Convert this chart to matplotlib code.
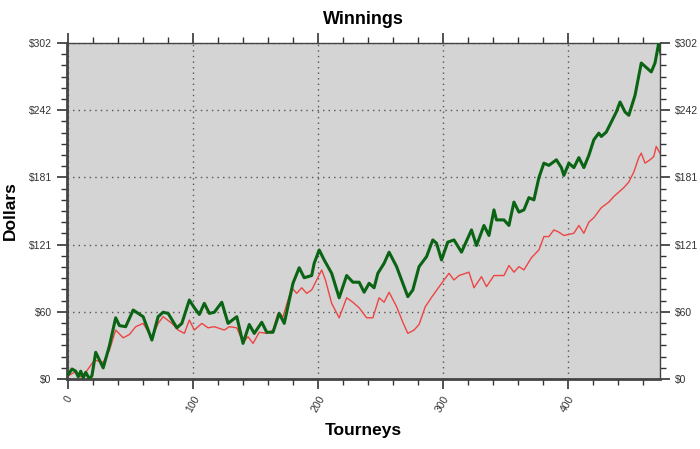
import matplotlib
matplotlib.use("Agg")
import matplotlib.pyplot as plt
from matplotlib.ticker import MultipleLocator, FixedLocator, FuncFormatter

plt.rcParams['font.family'] = ['Liberation Sans', 'DejaVu Sans']

# data (tourney, dollars)
green_t = [0, 3, 6, 8, 10, 12, 14, 17, 19, 22, 28, 33, 38, 41, 46, 52, 56, 60, 67, 72,
           76, 80, 87, 91, 97, 101, 105, 109, 113, 117, 123, 128, 135, 140, 145, 149, 155, 159, 164, 169,
           173, 180, 185, 189, 195, 197, 201, 205, 211, 217, 223, 228, 233, 237, 241, 245, 248, 253, 257, 263,
           268, 272, 276, 281, 287, 292, 295, 299, 304, 309, 315, 323, 327, 333, 337, 341, 343, 349, 353, 357,
           361, 365, 369, 373, 377, 381, 385, 391, 395, 397, 401, 405, 409, 413, 417, 421, 425, 427, 431, 435,
           439, 442, 446, 449, 454, 459, 463, 467, 470, 473, 475]
green_v = [4, 9, 7, 2, 7, 1, 6, 0, 3, 24, 10, 30, 55, 48, 47, 62, 59, 56, 35, 56,
           60, 59, 46, 50, 71, 64, 58, 68, 59, 60, 69, 50, 56, 32, 49, 41, 51, 42, 42, 59,
           50, 86, 100, 91, 93, 104, 116, 107, 95, 73, 93, 87, 87, 78, 86, 82, 95, 104, 114, 101,
           86, 74, 80, 101, 110, 125, 122, 107, 123, 125, 114, 134, 120, 138, 129, 152, 143, 143, 138, 159,
           150, 152, 163, 161, 181, 194, 192, 197, 190, 183, 194, 190, 199, 190, 201, 215, 221, 218, 222, 231,
           240, 249, 240, 237, 255, 284, 280, 276, 284, 302, 291]

red_t = [0, 5, 10, 14, 21, 28, 33, 38, 44, 49, 54, 60, 67, 72, 76, 83, 88, 93, 97, 101,
         107, 112, 117, 125, 129, 135, 140, 144, 148, 153, 159, 164, 168, 172, 179, 183, 187, 191, 195, 203,
         206, 211, 217, 223, 228, 233, 239, 244, 249, 253, 257, 263, 268, 272, 277, 281, 286, 292, 301, 305,
         309, 313, 321, 325, 331, 335, 341, 349, 353, 357, 361, 365, 371, 377, 381, 385, 389, 393, 397, 405,
         409, 413, 417, 421, 427, 433, 437, 441, 445, 449, 453, 457, 459, 462, 466, 469, 471, 474]
red_v = [3, 6, 2, 6, 17, 15, 26, 44, 37, 40, 47, 50, 37, 50, 56, 50, 44, 41, 53, 44,
         50, 46, 47, 44, 47, 46, 33, 38, 32, 42, 41, 44, 59, 56, 82, 77, 82, 77, 80, 98,
         89, 68, 55, 73, 69, 64, 55, 55, 73, 69, 78, 65, 51, 41, 44, 49, 65, 75, 89, 95,
         89, 93, 96, 82, 92, 83, 93, 93, 102, 96, 101, 98, 109, 116, 128, 128, 134, 132, 129, 131,
         138, 131, 141, 145, 154, 159, 164, 168, 172, 177, 186, 199, 203, 194, 197, 200, 209, 203]

y_max = 302
y_ticks = [y_max * i / 5 for i in range(6)]
x_ticks = [0, 100, 200, 300, 400]

fig = plt.figure(figsize=(7, 4.49), dpi=100)
ax = fig.add_axes([67 / 700, 1 - 379 / 449, 593 / 700, 336 / 449])
ax.set_facecolor('#d4d4d4')

ax.plot(red_t, red_v, color='#ee4444', lw=1.0, zorder=3)
ax.plot(green_t, green_v, color='#0a6414', lw=2.2, zorder=4)

ax.set_xlim(-1, 474)
ax.set_ylim(0, y_max)

ax.xaxis.set_major_locator(FixedLocator(x_ticks))
ax.xaxis.set_minor_locator(MultipleLocator(20))
ax.yaxis.set_major_locator(FixedLocator(y_ticks))
ax.yaxis.set_minor_locator(MultipleLocator(y_max / 30))
fmt = FuncFormatter(lambda v, p: f"${v:.0f}")
ax.yaxis.set_major_formatter(fmt)

ax.grid(True, which='major', color='#555555', linestyle=(0, (1, 3)), lw=1.0)

ax.tick_params(axis='both', which='both', direction='out', colors='#333333', labelsize=7.5)
ax.tick_params(axis='both', which='major', length=7, width=1.2)
ax.tick_params(axis='both', which='minor', length=4, width=1.0)
ax.tick_params(axis='x', which='both', top=True)
ax.tick_params(axis='x', which='major', labelrotation=60, pad=4)
ax.tick_params(axis='y', which='both', right=True, labelright=True, pad=4)
for lab in ax.get_xticklabels():
    lab.set_ha('center')

for s in ax.spines.values():
    s.set_color('#444444')
    s.set_linewidth(1.0)
ax.spines['left'].set_linewidth(2)
ax.spines['bottom'].set_linewidth(2)

ax.set_title('Winnings', fontsize=13, fontweight='bold', pad=14)
ax.set_xlabel('Tourneys', fontsize=12.5, fontweight='bold', labelpad=6)
ax.set_ylabel('Dollars', fontsize=12.5, fontweight='bold')
ax.yaxis.set_label_coords(-0.082, 0.5)

fig.savefig('out.png', dpi=100, facecolor='white')
